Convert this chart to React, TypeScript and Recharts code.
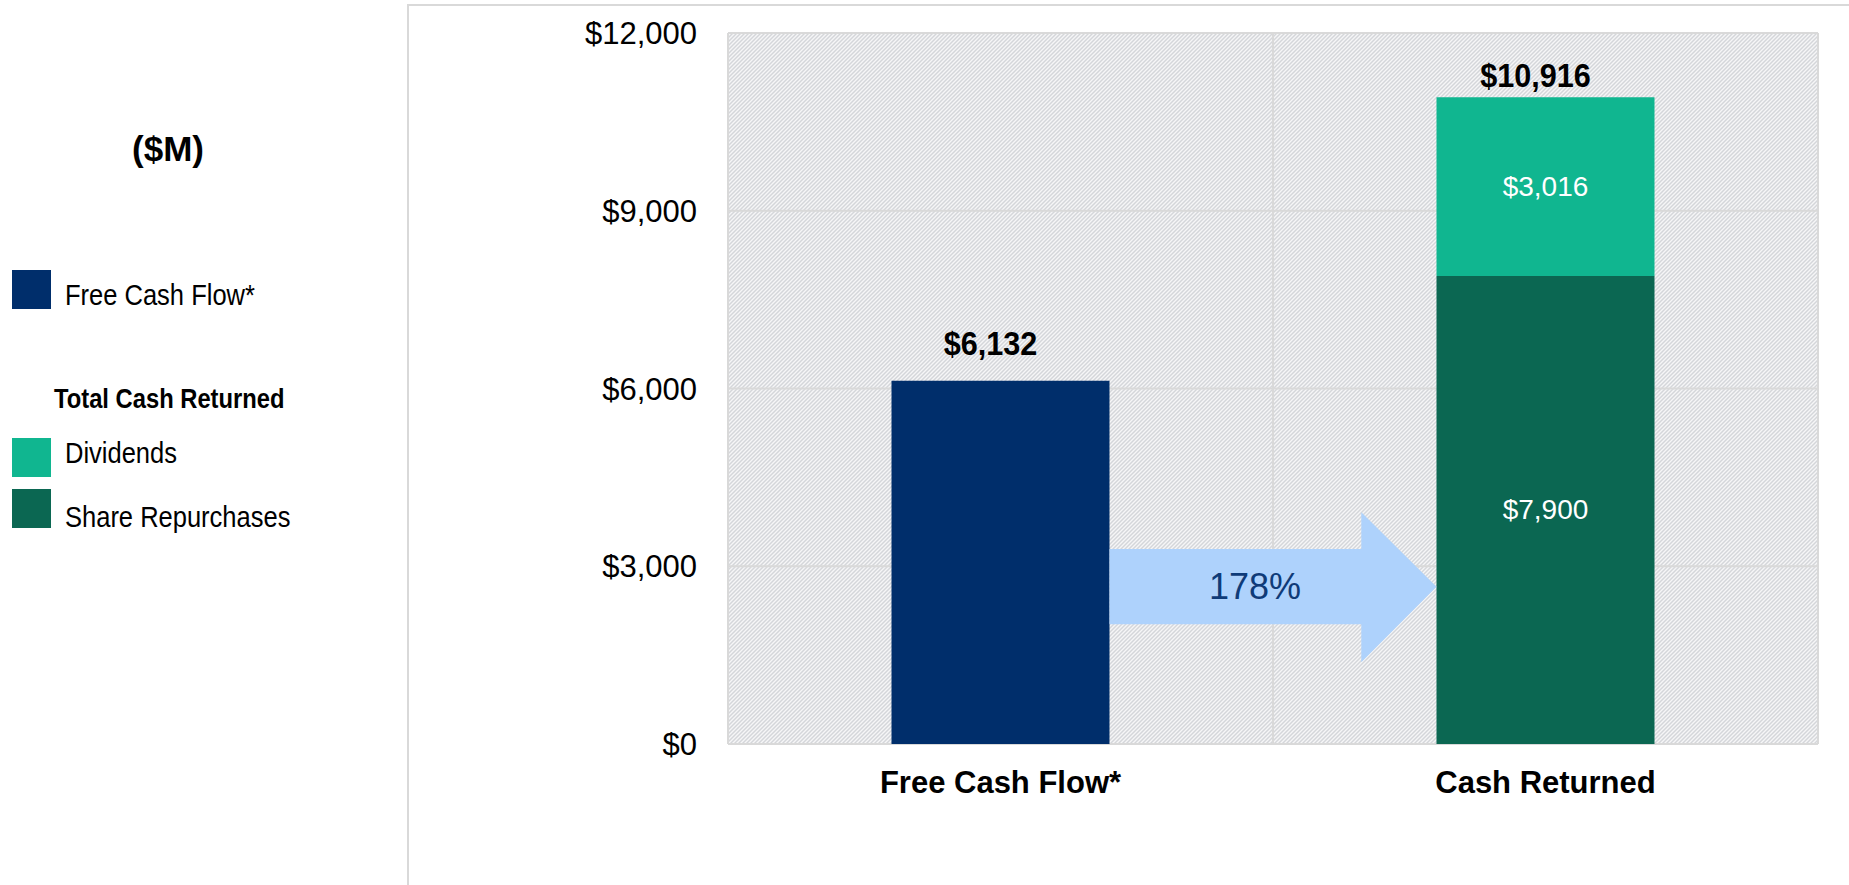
import { BarChart, Bar, XAxis, YAxis, CartesianGrid, LabelList } from "recharts";

// values in $M
const categories = ["Free Cash Flow*", "Cash Returned"];
const freeCashFlow = [6132, 0];
const shareRepurchases = [0, 7900];
const dividends = [0, 3016];
const yTicks = [0, 3000, 6000, 9000, 12000];

// arrow between the bars, read in $ units off the y axis
const arrowShaft = [2020, 3290];
const arrowHead = [1380, 3910];

const legendTitle = "($M)";
const legendGroup = "Total Cash Returned";

const FONT = "'Liberation Sans', Arial, Helvetica, sans-serif";

const COLORS = {
  fcf: "#002e6b",
  dividends: "#10b690",
  repurchases: "#0b6752",
  arrow: "#aed2fc",
  arrowText: "#0f3b78",
  grid: "#d9d9d9",
};

const data = categories.map((name, i) => ({
  name,
  fcf: freeCashFlow[i],
  repurchases: shareRepurchases[i],
  dividends: dividends[i],
}));

const totals = categories.map((_, i) => freeCashFlow[i] + shareRepurchases[i] + dividends[i]);

const money = (v: number) => "$" + v.toLocaleString("en-US");

// gap between a bar top and its total label
const topGap = [26, 10];

const makeTopLabel = (key: "fcf" | "dividends") => (props: any) => {
  const x = Number(props.x), y = Number(props.y), width = Number(props.width);
  const i = data.findIndex((d) => d[key] === props.value);
  if (!props.value || i < 0) return null;
  return (
    <g transform={`translate(${x + width / 2 - 10},${y - topGap[i]}) scale(0.9,1)`}>
      <text x={0} y={0} textAnchor="middle" fontSize={34} fontWeight="bold" fontFamily={FONT} fill="#000">
        {money(totals[i])}
      </text>
    </g>
  );
};

const InnerLabel = (props: any) => {
  const x = Number(props.x), y = Number(props.y), width = Number(props.width), height = Number(props.height);
  if (!props.value) return null;
  return (
    <text
      x={x + width / 2}
      y={y + height / 2}
      textAnchor="middle"
      dominantBaseline="central"
      fontSize={28}
      fontFamily={FONT}
      fill="#ffffff"
    >
      {money(props.value)}
    </text>
  );
};

const ArrowLabel = (props: any) => {
  const x = Number(props.x), y = Number(props.y), width = Number(props.width), height = Number(props.height);
  const value = props.value;
  if (!value) return null;
  const base = y + height;
  const toY = (v: number) => base - (v * height) / value;
  const x0 = x + width;
  const tip = x + width * 2.5; // left edge of next bar (30% category gap)
  const headX = tip - (tip - x0) * 0.23;
  const mid = toY((arrowShaft[0] + arrowShaft[1]) / 2);
  const pts = [
    [x0, toY(arrowShaft[1])],
    [headX, toY(arrowShaft[1])],
    [headX, toY(arrowHead[1])],
    [tip, mid],
    [headX, toY(arrowHead[0])],
    [headX, toY(arrowShaft[0])],
    [x0, toY(arrowShaft[0])],
  ];
  const pct = Math.round((totals[1] / totals[0]) * 100);
  return (
    <g>
      <polygon points={pts.map((p) => p.join(",")).join(" ")} fill={COLORS.arrow} />
      <text
        x={x0 + (tip - x0) * 0.445}
        y={mid}
        textAnchor="middle"
        dominantBaseline="central"
        fontSize={36}
        fontFamily={FONT}
        fill={COLORS.arrowText}
      >
        {pct}%
      </text>
    </g>
  );
};

const legendRows = [
  { label: "Free Cash Flow*", color: COLORS.fcf, top: 270, baseline: 305 },
  { label: "Dividends", color: COLORS.dividends, top: 438, baseline: 463 },
  { label: "Share Repurchases", color: COLORS.repurchases, top: 489, baseline: 527 },
];

// legend font is a condensed grotesque in the original
function Condensed({ x, y, size, bold, children }: any) {
  return (
    <g transform={`translate(${x},${y}) scale(0.88,1)`}>
      <text x={0} y={0} fontSize={size} fontWeight={bold ? "bold" : "normal"} fontFamily={FONT} fill="#000">
        {children}
      </text>
    </g>
  );
}

function SideLegend() {
  return (
    <svg width={400} height={560} style={{ position: "absolute", left: 0, top: 0 }}>
      <text x={168} y={161} textAnchor="middle" fontSize={35} fontWeight="bold" fontFamily={FONT}>
        {legendTitle}
      </text>
      {legendRows.map((r) => (
        <g key={r.label}>
          <rect x={12} y={r.top} width={39} height={39} fill={r.color} />
          <Condensed x={65} y={r.baseline} size={29}>
            {r.label}
          </Condensed>
        </g>
      ))}
      <Condensed x={54} y={408} size={27} bold>
        {legendGroup}
      </Condensed>
    </svg>
  );
}

export default function App() {
  return (
    <div style={{ position: "absolute", left: 0, top: 0, width: 1849, height: 885, background: "#fff", overflow: "hidden" }}>
      <div
        style={{
          position: "absolute",
          left: 407,
          top: 4,
          width: 1441,
          height: 900,
          borderLeft: "2px solid #d9d9d9",
          borderTop: "2px solid #d9d9d9",
        }}
      />
      <SideLegend />
      <div style={{ position: "absolute", left: 0, top: 0 }}>
        <BarChart
          width={1849}
          height={885}
          data={data}
          margin={{ top: 33, right: 31, left: 618, bottom: 81 }}
          barCategoryGap="30%"
        >
          <defs>
            <pattern id="hatch" patternUnits="userSpaceOnUse" width={4} height={4}>
              <rect width={4} height={4} fill="#d4d6da" />
              <path d="M-1,1 l2,-2 M0,4 l4,-4 M3,5 l2,-2" stroke="#f6f6f7" strokeWidth={1.4} />
            </pattern>
          </defs>
          <CartesianGrid
            fill="url(#hatch)"
            fillOpacity={1}
            stroke={COLORS.grid}
            strokeWidth={2}
            verticalCoordinatesGenerator={({ offset }: any) => [
              offset.left,
              offset.left + offset.width / 2,
              offset.left + offset.width,
            ]}
          />
          <XAxis
            dataKey="name"
            height={60}
            axisLine={false}
            tickLine={false}
            tickSize={0}
            tickMargin={27}
            interval={0}
            tick={{ fontSize: 31, fontWeight: "bold", fill: "#000", fontFamily: FONT }}
          />
          <YAxis
            width={110}
            domain={[0, 12000]}
            ticks={yTicks}
            axisLine={false}
            tickLine={false}
            tickSize={0}
            tickMargin={31}
            tickFormatter={money}
            tick={{ fontSize: 31, fill: "#000", fontFamily: FONT }}
          />
          <Bar dataKey="fcf" stackId="a" fill={COLORS.fcf} isAnimationActive={false}>
            <LabelList dataKey="fcf" content={makeTopLabel("fcf")} />
            <LabelList dataKey="fcf" content={ArrowLabel} />
          </Bar>
          <Bar dataKey="repurchases" stackId="a" fill={COLORS.repurchases} isAnimationActive={false}>
            <LabelList dataKey="repurchases" content={InnerLabel} />
          </Bar>
          <Bar dataKey="dividends" stackId="a" fill={COLORS.dividends} isAnimationActive={false}>
            <LabelList dataKey="dividends" content={InnerLabel} />
            <LabelList dataKey="dividends" content={makeTopLabel("dividends")} />
          </Bar>
        </BarChart>
      </div>
    </div>
  );
}
